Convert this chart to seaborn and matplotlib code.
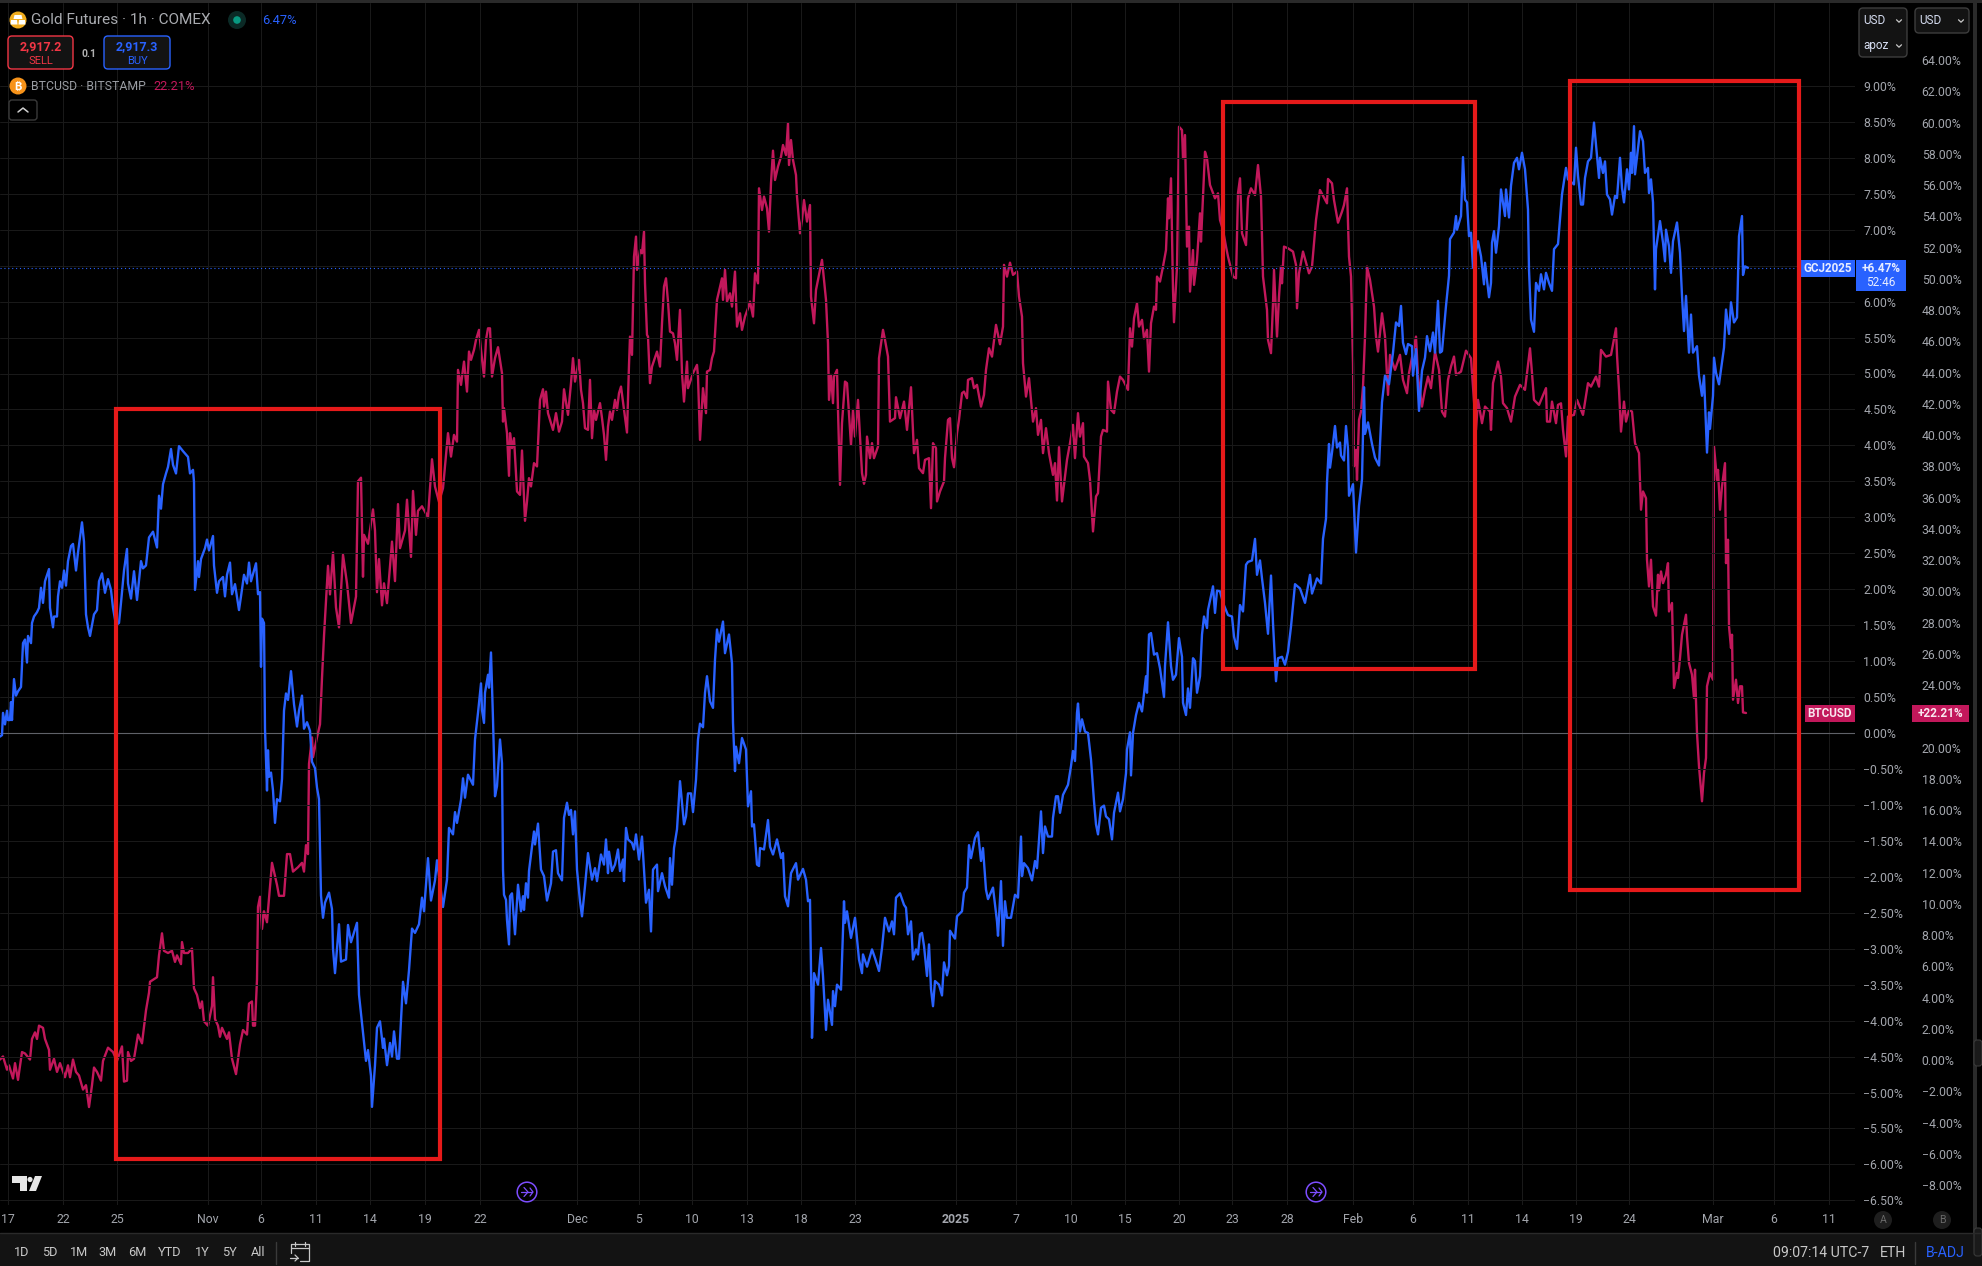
import matplotlib
matplotlib.use("Agg")
import matplotlib.pyplot as plt
from matplotlib.patches import Rectangle, FancyBboxPatch, Circle, Polygon
import pandas as pd
import seaborn as sns

# tick labels sit at these bar positions on the compressed trading axis
tick_bar = [8, 63, 117, 208, 261, 316, 370, 425, 480, 577, 639, 692, 747, 801, 855,
            956, 1016, 1071, 1125, 1179, 1232, 1287, 1353, 1413, 1468, 1522, 1576, 1629, 1713, 1774, 1829]
tick_label = ["17", "22", "25", "Nov", "6", "11", "14", "19", "22", "Dec", "5", "10", "13", "18", "23",
              "2025", "7", "10", "15", "20", "23", "28", "Feb", "6", "11", "14", "19", "24", "Mar", "6", "11"]

gold_bar = [
    0, 2, 3, 5, 7, 8, 10, 11, 12, 14,
    16, 18, 21, 23, 25, 27, 28, 31, 32, 34,
    37, 39, 41, 43, 45, 49, 50, 53, 54, 57,
    58, 60, 62, 64, 66, 68, 71, 73, 76, 78,
    82, 84, 86, 88, 90, 94, 97, 99, 102, 105,
    108, 111, 113, 116, 119, 121, 124, 127, 128, 131,
    134, 137, 141, 143, 146, 149, 153, 157, 159, 161,
    163, 166, 168, 171, 173, 176, 179, 183, 188, 190,
    193, 194, 195, 198, 199, 201, 205, 207, 209, 213,
    214, 217, 219, 223, 225, 227, 230, 232, 235, 239,
    241, 244, 247, 249, 251, 256, 258, 260, 261, 262,
    264, 265, 267, 268, 269, 271, 273, 275, 277, 280,
    282, 284, 286, 288, 291, 294, 297, 299, 302, 304,
    307, 310, 312, 315, 317, 319, 321, 323, 325, 329,
    332, 333, 335, 339, 341, 346, 348, 351, 357, 359,
    362, 366, 368, 371, 372, 375, 377, 380, 383, 384,
    387, 390, 392, 394, 397, 399, 402, 403, 406, 409,
    412, 415, 419, 422, 424, 428, 431, 435, 437, 443,
    447, 449, 453, 455, 457, 461, 463, 465, 468, 473,
    475, 478, 481, 482, 484, 485, 488, 489, 491, 493,
    495, 497, 500, 502, 503, 504, 506, 507, 509, 510,
    512, 515, 518, 521, 523, 524, 526, 528, 529, 532,
    534, 535, 538, 541, 544, 547, 551, 553, 556, 558,
    562, 564, 567, 569, 571, 573, 575, 577, 580, 582,
    585, 588, 592, 595, 597, 601, 604, 606, 608, 609,
    612, 615, 618, 620, 623, 624, 626, 628, 632, 634,
    636, 639, 642, 646, 649, 651, 653, 657, 658, 662,
    665, 669, 670, 672, 674, 677, 680, 684, 686, 688,
    691, 693, 696, 698, 700, 703, 705, 707, 710, 713,
    715, 717, 719, 723, 725, 729, 732, 733, 735, 736,
    739, 742, 746, 748, 751, 752, 754, 757, 759, 760,
    764, 768, 770, 773, 777, 781, 783, 785, 788, 791,
    796, 798, 803, 806, 808, 810, 812, 813, 814, 818,
    821, 823, 826, 828, 832, 833, 835, 837, 841, 844,
    845, 847, 851, 855, 859, 862, 863, 867, 872, 875,
    879, 882, 885, 889, 892, 894, 896, 900, 904, 906,
    908, 911, 913, 916, 918, 920, 922, 924, 927, 929,
    931, 933, 935, 939, 942, 944, 947, 949, 950, 955,
    957, 962, 964, 967, 969, 971, 975, 978, 981, 983,
    986, 988, 993, 997, 998, 1001, 1003, 1005, 1007, 1011,
    1015, 1018, 1021, 1022, 1024, 1028, 1032, 1035, 1037, 1041,
    1043, 1045, 1048, 1052, 1053, 1056, 1058, 1060, 1063, 1068,
    1071, 1073, 1075, 1077, 1078, 1080, 1082, 1085, 1088, 1091,
    1094, 1096, 1098, 1101, 1104, 1106, 1109, 1112, 1114, 1118,
    1120, 1123, 1126, 1127, 1130, 1131, 1133, 1136, 1139, 1142,
    1146, 1147, 1149, 1151, 1154, 1157, 1160, 1164, 1165, 1168,
    1171, 1173, 1176, 1179, 1182, 1183, 1186, 1188, 1190, 1193,
    1195, 1197, 1200, 1202, 1204, 1207, 1208, 1213, 1215, 1217,
    1220, 1223, 1228, 1232, 1234, 1237, 1240, 1243, 1246, 1248,
    1252, 1255, 1257, 1260, 1262, 1265, 1268, 1271, 1273, 1276,
    1278, 1282, 1285, 1288, 1291, 1295, 1300, 1305, 1310, 1312,
    1317, 1321, 1323, 1326, 1327, 1329, 1330, 1332, 1335, 1337,
    1340, 1341, 1344, 1346, 1348, 1349, 1353, 1356, 1359, 1362,
    1364, 1365, 1368, 1372, 1375, 1379, 1382, 1385, 1389, 1393,
    1396, 1399, 1401, 1403, 1406, 1408, 1412, 1413, 1416, 1419,
    1422, 1425, 1427, 1430, 1433, 1435, 1438, 1440, 1442, 1446,
    1449, 1450, 1454, 1456, 1457, 1461, 1463, 1465, 1467, 1469,
    1471, 1473, 1478, 1481, 1484, 1485, 1489, 1491, 1492, 1494,
    1496, 1499, 1501, 1505, 1506, 1509, 1511, 1514, 1517, 1519,
    1522, 1525, 1528, 1529, 1531, 1534, 1536, 1539, 1541, 1544,
    1546, 1549, 1552, 1554, 1558, 1562, 1566, 1568, 1574, 1576,
    1578, 1581, 1583, 1585, 1588, 1591, 1594, 1599, 1600, 1603,
    1605, 1607, 1610, 1612, 1615, 1617, 1620, 1622, 1624, 1627,
    1629, 1631, 1632, 1634, 1635, 1640, 1643, 1645, 1648, 1649,
    1651, 1653, 1655, 1656, 1660, 1663, 1665, 1666, 1669, 1671,
    1673, 1677, 1680, 1682, 1684, 1686, 1689, 1691, 1693, 1697,
    1699, 1702, 1704, 1707, 1709, 1710, 1713, 1714, 1716, 1719,
    1724, 1726, 1729, 1731, 1734, 1737, 1739, 1742, 1743, 1745, 1748,
]
gold_pct = [
    -0.05, -0.03, 0.28, 0.12, 0.31, 0.18, 0.18, 0.43, 0.18, 0.75,
    0.52, 0.58, 0.64, 1.25, 1.30, 0.98, 1.35, 1.25, 1.53, 1.62,
    1.68, 1.74, 2.02, 1.81, 2.11, 2.28, 1.74, 1.47, 1.62, 1.62,
    1.90, 2.11, 2.02, 2.26, 2.05, 2.39, 2.60, 2.63, 2.26, 2.51,
    2.93, 2.66, 1.65, 1.47, 1.35, 1.65, 1.71, 2.11, 2.22, 1.95,
    2.14, 1.99, 1.74, 1.50, 1.53, 1.81, 2.26, 2.56, 2.08, 1.87,
    2.25, 1.85, 2.39, 2.29, 2.33, 2.72, 2.80, 2.58, 3.30, 3.12,
    3.46, 3.61, 3.70, 3.95, 3.73, 3.61, 3.99, 3.92, 3.84, 3.61,
    3.66, 3.49, 1.99, 2.39, 2.17, 2.42, 2.57, 2.69, 2.54, 2.74,
    2.33, 1.95, 2.11, 2.17, 1.90, 2.20, 2.37, 1.93, 2.07, 1.71,
    1.90, 2.20, 2.08, 2.37, 2.11, 2.36, 1.93, 1.96, 0.92, 1.59,
    1.53, 0.06, -0.80, -0.24, -0.61, -0.55, -0.80, -1.25, -0.92, -0.95,
    -0.64, 0.31, 0.55, 0.46, 0.86, 0.40, 0.09, 0.31, 0.52, 0.06,
    0.15, 0.03, -0.40, -0.49, -0.76, -0.92, -2.26, -2.57, -2.36, -2.22,
    -2.45, -3.00, -3.34, -2.66, -3.18, -3.15, -2.67, -2.91, -2.64, -3.64,
    -4.04, -4.56, -4.41, -4.77, -5.20, -4.62, -4.10, -4.01, -4.38, -4.25,
    -4.62, -4.31, -4.50, -4.15, -4.53, -4.53, -3.73, -3.46, -3.76, -3.30,
    -2.72, -2.78, -2.66, -2.29, -2.48, -1.74, -2.33, -2.05, -1.77, -2.42,
    -2.04, -1.32, -1.41, -1.10, -1.25, -0.93, -0.63, -0.90, -0.58, -0.72,
    -0.09, 0.28, 0.69, 0.32, 0.14, 0.56, 0.81, 0.63, 1.12, 0.19,
    -0.88, -0.74, -0.09, -0.42, -1.90, -2.25, -2.32, -2.60, -2.94, -2.27,
    -2.23, -2.80, -2.11, -2.48, -2.27, -2.46, -2.09, -2.29, -1.92, -1.58,
    -1.37, -1.55, -1.26, -1.90, -1.99, -2.33, -2.09, -1.65, -1.63, -1.95,
    -2.05, -1.18, -0.97, -1.14, -1.07, -1.41, -1.09, -1.90, -2.34, -2.55,
    -2.13, -1.67, -2.04, -1.88, -2.06, -1.69, -1.83, -1.48, -1.95, -1.65,
    -1.92, -1.83, -1.62, -1.92, -1.76, -2.06, -1.32, -1.48, -1.53, -1.62,
    -1.41, -1.76, -1.44, -2.36, -2.18, -2.76, -1.90, -1.83, -2.20, -1.95,
    -2.13, -2.29, -1.74, -2.11, -1.60, -1.34, -0.67, -1.27, -1.16, -0.84,
    -0.84, -1.10, -0.65, -0.09, 0.13, 0.08, 0.56, 0.79, 0.44, 0.35,
    1.02, 1.44, 1.27, 1.55, 1.11, 1.37, 0.97, 0.14, -0.53, -0.19,
    -0.42, -0.07, -0.23, -1.02, -0.81, -1.30, -1.27, -1.83, -1.85, -1.60,
    -1.62, -1.21, -1.58, -1.69, -1.48, -1.74, -1.67, -2.27, -2.41, -1.95,
    -1.81, -2.04, -1.89, -2.04, -2.34, -2.32, -4.24, -3.89, -3.34, -3.50,
    -2.99, -3.38, -4.13, -3.71, -4.06, -3.59, -3.80, -3.50, -3.57, -2.34,
    -2.64, -2.48, -2.85, -2.57, -3.15, -3.34, -3.08, -3.25, -3.01, -3.13,
    -3.31, -2.99, -2.57, -2.76, -2.62, -2.80, -2.29, -2.23, -2.39, -2.43,
    -2.80, -2.62, -3.15, -3.01, -3.08, -2.80, -2.78, -2.96, -3.38, -2.94,
    -3.56, -3.80, -3.45, -3.50, -3.65, -3.19, -3.37, -3.24, -2.75, -2.86,
    -2.55, -2.48, -2.22, -2.15, -1.56, -1.74, -1.46, -1.38, -1.78, -1.60,
    -2.18, -2.31, -2.15, -2.62, -2.82, -2.06, -2.96, -2.34, -2.57, -2.57,
    -2.25, -2.29, -1.44, -1.99, -1.81, -1.88, -2.05, -1.78, -1.88, -1.09,
    -1.67, -1.30, -1.44, -1.44, -1.18, -0.88, -0.88, -1.11, -0.86, -0.72,
    -0.46, -0.25, -0.39, 0.28, 0.41, 0.02, 0.19, 0.02, 0.00, -0.37,
    -0.95, -1.27, -1.41, -1.04, -1.01, -1.16, -1.20, -1.48, -1.11, -0.83,
    -1.09, -0.92, -0.56, -0.23, 0.01, -0.59, 0.00, 0.25, 0.42, 0.30,
    0.79, 0.56, 1.37, 1.39, 1.09, 1.11, 0.90, 0.50, 0.93, 1.54,
    0.93, 0.74, 0.81, 1.32, 1.06, 0.42, 0.25, 0.62, 0.35, 1.04,
    1.00, 0.56, 0.79, 1.37, 1.62, 1.46, 1.71, 2.04, 1.67, 1.98,
    1.97, 1.81, 1.64, 1.62, 1.34, 1.17, 1.78, 1.69, 2.34, 2.38,
    2.40, 2.70, 2.20, 2.40, 2.15, 1.81, 1.38, 2.19, 1.53, 0.72,
    1.04, 1.06, 0.95, 1.13, 1.48, 2.07, 2.01, 1.81, 2.20, 1.94,
    2.15, 2.08, 2.70, 2.98, 3.49, 4.02, 3.69, 3.90, 4.27, 3.97,
    4.04, 3.86, 3.79, 4.27, 3.95, 3.30, 3.46, 2.51, 3.16, 3.53,
    4.81, 4.16, 4.32, 4.02, 3.83, 3.72, 4.60, 4.97, 4.85, 5.29,
    5.71, 5.66, 5.94, 5.43, 5.27, 5.41, 5.38, 4.97, 5.34, 4.48,
    5.04, 5.22, 5.52, 5.31, 5.57, 5.29, 6.01, 5.29, 5.31, 5.94,
    6.36, 6.87, 6.96, 7.19, 7.00, 7.19, 8.01, 7.42, 7.38, 6.91,
    6.96, 6.47, 6.84, 6.63, 6.24, 6.54, 6.06, 6.26, 6.82, 6.98,
    6.68, 7.05, 7.56, 7.19, 7.56, 7.17, 7.61, 7.93, 8.00, 7.84,
    8.07, 7.84, 7.28, 6.45, 5.75, 5.58, 6.26, 6.15, 6.38, 6.17,
    6.40, 6.26, 6.15, 6.73, 6.80, 7.49, 7.86, 7.70, 7.63, 8.14,
    7.75, 7.35, 7.35, 7.72, 7.95, 8.00, 8.49, 7.72, 8.00, 7.79,
    7.95, 7.49, 7.42, 7.21, 7.47, 7.44, 8.00, 7.58, 7.38, 7.84,
    7.56, 8.07, 7.79, 8.44, 7.77, 8.37, 8.23, 7.79, 7.86, 7.51,
    7.70, 7.38, 6.17, 6.73, 7.12, 6.82, 6.56, 7.00, 6.77, 6.40,
    6.84, 7.10, 6.68, 6.08, 5.59, 6.08, 5.29, 5.82, 5.29, 5.38,
    4.97, 4.69, 4.97, 3.90, 4.46, 4.23, 4.69, 5.22, 5.01, 4.85,
    5.36, 5.89, 5.55, 5.99, 5.71, 5.78, 6.91, 7.19, 6.37, 6.49, 6.47,
]

btc_bar = [
    0, 3, 7, 9, 13, 15, 18, 22, 25, 30,
    32, 35, 37, 39, 43, 45, 49, 50, 54, 57,
    60, 65, 68, 70, 73, 76, 79, 83, 86, 89,
    92, 94, 97, 101, 103, 108, 113, 117, 122, 124,
    127, 128, 131, 134, 138, 142, 146, 149, 150, 157,
    159, 162, 164, 168, 172, 175, 177, 181, 182, 184,
    188, 192, 194, 197, 200, 202, 204, 208, 212, 213,
    215, 218, 220, 222, 227, 229, 232, 236, 240, 243,
    247, 249, 252, 253, 255, 257, 258, 260, 262, 264,
    267, 272, 277, 279, 284, 287, 290, 293, 298, 302,
    304, 306, 308, 309, 312, 313, 317, 320, 322, 324,
    328, 330, 333, 336, 339, 343, 347, 351, 356, 358,
    361, 363, 364, 368, 373, 375, 377, 379, 382, 384,
    387, 392, 395, 398, 400, 405, 407, 411, 413, 416,
    418, 422, 428, 432, 435, 439, 443, 447, 448, 451,
    454, 457, 458, 461, 464, 467, 469, 471, 474, 476,
    479, 481, 484, 486, 488, 490, 492, 495, 498, 502,
    503, 504, 507, 509, 510, 512, 514, 517, 520, 522,
    525, 527, 529, 531, 534, 537, 540, 543, 544, 546,
    548, 553, 556, 559, 562, 564, 568, 571, 573, 575,
    579, 581, 583, 585, 588, 590, 592, 594, 596, 600,
    602, 604, 606, 608, 610, 612, 615, 617, 619, 621,
    624, 627, 629, 630, 632, 634, 636, 637, 640, 642,
    644, 645, 647, 648, 650, 652, 657, 660, 662, 664,
    666, 668, 670, 673, 675, 677, 680, 682, 684, 687,
    688, 693, 697, 698, 700, 703, 706, 707, 710, 712,
    714, 717, 722, 723, 725, 727, 730, 732, 735, 737,
    740, 742, 745, 748, 750, 753, 755, 758, 759, 762,
    764, 767, 769, 771, 773, 775, 778, 781, 783, 786,
    788, 789, 791, 793, 796, 797, 800, 802, 804, 807,
    810, 811, 814, 816, 818, 822, 826, 828, 829, 831,
    833, 834, 837, 838, 840, 842, 845, 847, 851, 853,
    855, 858, 862, 864, 866, 867, 870, 872, 874, 878,
    879, 883, 885, 888, 890, 895, 896, 900, 904, 907,
    911, 914, 917, 919, 923, 925, 929, 931, 933, 936,
    937, 940, 944, 945, 948, 950, 952, 954, 957, 959,
    962, 964, 967, 968, 972, 974, 977, 981, 984, 986,
    989, 992, 996, 1000, 1003, 1004, 1007, 1010, 1013, 1017,
    1019, 1022, 1023, 1026, 1029, 1033, 1036, 1038, 1041, 1043,
    1046, 1049, 1053, 1055, 1057, 1059, 1062, 1067, 1070, 1073,
    1075, 1078, 1080, 1083, 1084, 1088, 1090, 1093, 1096, 1098,
    1101, 1103, 1107, 1108, 1111, 1114, 1117, 1120, 1123, 1128,
    1130, 1132, 1134, 1137, 1139, 1142, 1144, 1147, 1149, 1151,
    1154, 1156, 1157, 1160, 1163, 1166, 1168, 1169, 1171, 1173,
    1174, 1177, 1179, 1182, 1183, 1185, 1187, 1189, 1190, 1193,
    1194, 1197, 1200, 1201, 1205, 1207, 1210, 1215, 1218, 1220,
    1223, 1226, 1228, 1233, 1236, 1238, 1240, 1242, 1246, 1248,
    1251, 1255, 1258, 1261, 1263, 1267, 1268, 1271, 1273, 1274,
    1277, 1279, 1281, 1282, 1284, 1288, 1293, 1296, 1297, 1299,
    1303, 1309, 1312, 1316, 1320, 1327, 1328, 1332, 1334, 1338,
    1342, 1344, 1347, 1349, 1351, 1353, 1354, 1356, 1357, 1359,
    1361, 1363, 1365, 1367, 1370, 1374, 1376, 1378, 1380, 1382,
    1385, 1388, 1390, 1395, 1400, 1403, 1407, 1409, 1416, 1418,
    1422, 1425, 1428, 1431, 1435, 1439, 1442, 1445, 1448, 1451,
    1454, 1456, 1461, 1466, 1471, 1473, 1476, 1478, 1482, 1485,
    1490, 1491, 1493, 1498, 1501, 1503, 1507, 1511, 1515, 1520,
    1525, 1530, 1532, 1534, 1539, 1546, 1547, 1550, 1552, 1556,
    1558, 1561, 1563, 1566, 1568, 1574, 1577, 1583, 1588, 1591,
    1596, 1599, 1601, 1606, 1611, 1616, 1617, 1619, 1621, 1624,
    1626, 1629, 1632, 1635, 1639, 1641, 1643, 1646, 1647, 1649,
    1651, 1653, 1656, 1658, 1659, 1661, 1663, 1666, 1668, 1669,
    1672, 1674, 1677, 1678, 1680, 1682, 1686, 1687, 1689, 1692,
    1694, 1695, 1697, 1699, 1702, 1704, 1706, 1707, 1710, 1713,
    1714, 1717, 1718, 1720, 1722, 1725, 1726, 1728, 1729, 1731,
    1732, 1733, 1736, 1738, 1740, 1742, 1743, 1746,
]
btc_pct = [
    0.03, 0.23, -0.62, -0.34, -1.18, -0.20, -1.27, 0.51, 0.42, 0.03,
    1.35, 1.77, 1.35, 2.20, 2.06, 1.35, 0.65, -0.62, 0.08, -0.76,
    -0.20, -1.10, -0.34, -1.10, 0.03, -0.76, -0.99, -1.89, -1.61, -3.01,
    -1.61, -0.48, -0.76, -1.32, -0.06, 0.79, 0.51, -0.06, 0.87, -1.38,
    -1.32, 0.51, -0.06, 0.08, 1.63, 1.07, 3.18, 4.31, 5.01, 5.30,
    6.70, 8.11, 6.99, 6.85, 6.99, 6.28, 6.70, 6.14, 7.55, 6.85,
    6.85, 7.13, 4.59, 4.17, 3.32, 3.75, 2.48, 2.20, 3.46, 5.30,
    2.62, 2.20, 1.49, 2.06, 1.35, 1.77, 0.08, -0.90, 1.00, 1.92,
    1.63, 3.61, 3.75, 2.20, 2.20, 5.16, 9.80, 10.45, 8.39, 9.52,
    8.82, 12.62, 11.21, 10.51, 10.51, 13.18, 13.18, 12.06, 12.34, 12.62,
    12.06, 13.75, 13.18, 18.96, 20.65, 19.38, 20.65, 21.49, 24.45, 27.13,
    31.63, 29.80, 32.48, 28.96, 27.69, 32.34, 30.51, 27.97, 29.66, 37.04,
    37.27, 30.93, 33.61, 33.04, 35.24, 33.89, 29.94, 32.06, 29.10, 30.51,
    29.24, 33.18, 30.65, 35.58, 32.76, 33.89, 35.86, 32.20, 36.42, 33.61,
    35.15, 35.44, 34.73, 38.45, 36.70, 35.72, 36.60, 39.48, 40.12, 38.62,
    40.01, 39.58, 44.17, 43.21, 44.70, 42.78, 45.34, 44.81, 45.45, 46.09,
    46.73, 45.45, 43.74, 46.09, 46.83, 46.83, 43.74, 44.92, 45.62, 43.96,
    40.86, 41.72, 40.12, 37.39, 40.12, 39.16, 39.80, 36.39, 36.17, 39.01,
    34.51, 35.75, 37.24, 36.71, 38.20, 37.99, 42.25, 42.93, 41.82, 42.78,
    41.40, 40.33, 41.40, 40.22, 40.86, 42.93, 41.29, 43.32, 44.92, 43.42,
    44.81, 42.89, 42.04, 40.44, 40.33, 43.53, 39.80, 41.61, 40.97, 42.04,
    41.08, 40.01, 38.41, 40.54, 41.50, 40.97, 42.25, 41.61, 42.68, 43.10,
    41.61, 40.16, 44.49, 46.30, 45.13, 51.42, 52.70, 50.57, 51.84, 51.63,
    53.02, 49.71, 46.41, 46.30, 43.32, 44.38, 45.34, 44.38, 47.15, 49.50,
    50.03, 48.54, 46.62, 46.51, 45.87, 44.81, 48.01, 43.96, 42.14, 44.70,
    43.00, 43.96, 44.49, 43.74, 39.69, 43.00, 41.40, 44.06, 44.17, 44.92,
    45.34, 48.65, 50.03, 48.65, 50.57, 48.54, 49.07, 48.22, 50.46, 46.94,
    47.79, 46.73, 47.58, 48.11, 48.54, 47.58, 50.35, 49.71, 55.79, 54.40,
    55.26, 54.51, 53.02, 56.11, 58.20, 56.32, 57.18, 57.81, 58.56, 57.92,
    59.95, 57.28, 58.88, 57.60, 56.64, 55.26, 52.91, 53.76, 55.04, 53.66,
    54.72, 48.86, 47.15, 49.29, 49.93, 51.21, 48.65, 45.87, 42.25, 43.85,
    42.04, 43.74, 44.17, 41.61, 36.81, 40.76, 43.42, 43.32, 39.37, 41.61,
    39.90, 42.25, 37.56, 36.88, 37.45, 39.90, 38.52, 39.48, 38.52, 39.26,
    44.92, 46.73, 46.09, 45.02, 40.86, 41.08, 42.42, 41.08, 42.14, 40.33,
    43.06, 38.84, 39.69, 37.88, 37.56, 38.41, 38.52, 35.32, 39.48, 39.16,
    35.75, 36.39, 37.03, 38.52, 40.97, 41.08, 38.52, 37.94, 40.12, 40.97,
    42.68, 42.78, 42.36, 43.53, 43.64, 43.00, 43.21, 41.82, 42.57, 44.17,
    45.55, 45.02, 47.05, 45.81, 46.94, 50.89, 50.14, 51.03, 50.25, 50.46,
    48.86, 47.58, 44.60, 42.46, 43.64, 40.86, 41.72, 40.01, 40.97, 38.84,
    40.44, 38.84, 37.45, 38.20, 35.81, 39.22, 35.75, 38.41, 39.48, 40.65,
    38.52, 41.40, 39.90, 40.76, 38.62, 38.20, 37.13, 33.83, 36.07, 36.28,
    39.90, 40.33, 40.22, 43.42, 41.61, 41.40, 42.78, 43.74, 43.53, 42.89,
    46.83, 45.66, 47.47, 48.43, 46.94, 47.37, 46.19, 46.73, 44.06, 47.15,
    48.22, 48.01, 50.14, 49.82, 50.78, 51.84, 55.15, 53.87, 56.43, 49.29,
    47.22, 50.78, 59.73, 59.52, 57.71, 59.20, 52.06, 53.34, 49.18, 51.84,
    49.61, 51.21, 54.19, 52.38, 58.13, 57.71, 56.00, 55.15, 55.47, 53.76,
    53.12, 52.06, 51.42, 50.14, 50.03, 55.47, 56.43, 52.91, 52.16, 55.15,
    55.79, 55.36, 57.28, 55.26, 50.14, 48.01, 46.09, 45.24, 48.43, 50.57,
    46.30, 48.86, 50.78, 49.71, 52.06, 51.95, 51.74, 50.89, 48.11, 50.35,
    51.74, 50.35, 50.78, 53.76, 55.68, 54.83, 56.39, 56.11, 55.04, 53.59,
    54.30, 54.72, 55.79, 51.42, 50.14, 44.60, 38.00, 39.05, 37.13, 40.97,
    41.50, 43.10, 46.30, 50.78, 49.93, 48.22, 46.30, 45.34, 46.51, 47.79,
    46.30, 42.57, 45.13, 44.17, 45.13, 43.53, 42.68, 43.96, 46.30, 43.74,
    41.82, 42.89, 43.74, 43.00, 45.34, 44.17, 41.50, 41.18, 43.53, 44.38,
    45.02, 43.85, 44.06, 45.40, 44.92, 43.10, 40.33, 42.25, 40.76, 41.82,
    41.50, 40.33, 43.32, 44.70, 43.74, 42.04, 41.72, 40.86, 42.46, 43.21,
    42.89, 45.55, 43.96, 42.25, 41.93, 43.00, 40.86, 40.86, 42.14, 40.76,
    41.93, 42.03, 40.33, 38.63, 41.18, 41.29, 42.25, 41.29, 43.32, 43.10,
    43.74, 43.10, 45.45, 45.02, 45.13, 46.83, 45.13, 42.89, 40.22, 42.14,
    40.86, 41.61, 41.50, 39.48, 38.84, 35.22, 36.39, 35.96, 32.02, 30.31,
    32.02, 29.03, 28.44, 31.06, 30.06, 31.27, 30.52, 31.06, 31.80, 28.71,
    29.25, 23.81, 24.77, 24.45, 25.73, 27.22, 28.50, 27.11, 25.41, 24.66,
    23.17, 24.98, 20.93, 18.80, 16.56, 18.37, 19.33, 23.92, 24.77, 24.34,
    39.27, 37.13, 37.77, 35.22, 36.71, 38.20, 31.80, 33.30, 27.76, 26.37,
    27.22, 23.06, 24.34, 22.85, 23.92, 23.92, 22.25, 22.21,
]

gold_ticks = [-6.5, -6, -5.5, -5, -4.5, -4, -3.5, -3, -2.5, -2, -1.5, -1, -0.5, 0, 0.5, 1, 1.5, 2, 2.5,
              3, 3.5, 4, 4.5, 5, 5.5, 6, 6.5, 7, 7.5, 8, 8.5, 9]
btc_ticks = [-8, -6, -4, -2, 0, 2, 4, 6, 8, 10, 12, 14, 16, 18, 20, 22, 24, 26, 28, 30, 32, 34, 36, 38, 40,
             42, 44, 46, 48, 50, 52, 54, 56, 58, 60, 62, 64]

BLUE = "#2962ff"
PINK = "#c2185b"
RED = "#e61a1a"
TXT = "#a3a6ad"
GRID = "#191919"
PANEL = "#131313"

sns.set_theme(style="dark", rc={"figure.facecolor": "black", "axes.facecolor": "black",
                                "axes.edgecolor": "black", "grid.color": GRID})
plt.rcParams['font.family'] = ['Roboto', 'DejaVu Sans']
plt.rcParams['axes.unicode_minus'] = True
# seaborn forces white edges on patches, the badges and coins have none
plt.rcParams['patch.force_edgecolor'] = False


def pct_fmt(v):
    return f"{v:.2f}%".replace("-", "\u2212")


W, H = 1982, 1266
fig = plt.figure(figsize=(W / 100, H / 100), dpi=100, facecolor="black")
# chart pane runs from y=3 to y=1205, x=0 to x=1855
ax = fig.add_axes([0, (H - 1205) / H, 1855 / W, (1205 - 3) / H])
ax2 = ax.twinx()

gold_df = pd.DataFrame({"bar": gold_bar, "pct": gold_pct})
btc_df = pd.DataFrame({"bar": btc_bar, "pct": btc_pct})

ax.axhline(0, color="#5f6168", lw=0.8, zorder=1)
ax.axhline(6.47, color=BLUE, lw=0.8, ls=(0, (1, 2.5)), zorder=1)
sns.lineplot(data=btc_df, x="bar", y="pct", ax=ax2, color=PINK, lw=1.7, estimator=None, sort=False,
             errorbar=None, zorder=3)
sns.lineplot(data=gold_df, x="bar", y="pct", ax=ax, color=BLUE, lw=1.7, estimator=None, sort=False,
             errorbar=None, zorder=4)
# gold line has to sit over the pink one, so the left axes goes in front
ax.set_zorder(ax2.get_zorder() + 1)
ax.patch.set_visible(False)
ax2.patch.set_facecolor("black")

ax.set_xlim(0, 1855)
ax.set_ylim((733 - 1205) / 71.9, (733 - 3) / 71.9)
ax2.set_ylim(20.93 + (733 - 1205) / 15.625, 20.93 + (733 - 3) / 15.625)

ax.set_xticks(tick_bar)
ax.set_xticklabels(tick_label, fontsize=8.8, color=TXT)
for lab in ax.get_xticklabels():
    if lab.get_text() == "2025":
        lab.set_fontweight("bold")
ax.tick_params(axis="x", length=0, pad=5.5)
ax.grid(True, color=GRID, lw=0.72)
ax.set_axisbelow(True)
ax2.grid(False)
ax.set_xlabel("")
ax.set_ylabel("")
ax2.set_xlabel("")
ax2.set_ylabel("")

ax.yaxis.tick_right()
ax.set_yticks(gold_ticks)
# 6.50% is covered by the last price badge
ax.set_yticklabels(["" if v == 6.5 else pct_fmt(v) for v in gold_ticks], fontsize=8.8, color=TXT)
ax.tick_params(axis="y", length=0, pad=6)
ax2.set_yticks(btc_ticks)
ax2.set_yticklabels(["" if v == 22 else pct_fmt(v) for v in btc_ticks], fontsize=8.8, color=TXT)
ax2.tick_params(axis="y", length=0, pad=48)
for a in (ax, ax2):
    for s in a.spines.values():
        s.set_visible(False)

# overlay in picture pixels for the platform chrome and the hand drawn boxes
ov = fig.add_axes([0, 0, 1, 1], zorder=10)
ov.set_xlim(0, W)
ov.set_ylim(H, 0)
ov.axis("off")
ov.patch.set_visible(False)


def box(x0, y0, x1, y1, face="none", edge="none", lw=1.0, rad=0, z=2):
    if rad:
        p = FancyBboxPatch((x0 + rad, y0 + rad), x1 - x0 - 2 * rad, y1 - y0 - 2 * rad,
                           boxstyle=f"round,pad={rad},rounding_size={rad}",
                           fc=face, ec=edge, lw=lw, zorder=z)
    else:
        p = Rectangle((x0, y0), x1 - x0, y1 - y0, fc=face, ec=edge, lw=lw, zorder=z)
    ov.add_patch(p)


def txt(x, y, s, size=8.8, color=TXT, ha="left", weight="normal", z=5):
    ov.text(x, y, s, fontsize=size, color=color, ha=ha, va="center", fontweight=weight, zorder=z)


# red rectangles
for x0, y0, x1, y1 in [(116, 409, 440, 1159), (1223, 102, 1475, 669), (1570, 81, 1799, 890)]:
    box(x0, y0, x1, y1, edge=RED, lw=3.0, z=3)

# top strip, bottom toolbar, right edge
box(0, 0, W, 3, face="#2a2a2a")
box(0, 1233, W, H, face=PANEL)
ov.plot([0, W], [1233, 1233], color="#2a2a2a", lw=1, zorder=3)
box(1973, 3, 1977, 1233, face="#2a2a2a")

# header
ov.add_patch(Circle((18, 20), 8.5, fc="#f0ad1e", zorder=4))
ov.add_patch(Polygon([[14.5, 15], [21.5, 15], [22.5, 19], [13.5, 19]], fc="white", zorder=5))
ov.add_patch(Polygon([[11, 20], [17, 20], [17.5, 24.5], [10.5, 24.5]], fc="white", zorder=5))
ov.add_patch(Polygon([[19, 20], [25, 20], [25.5, 24.5], [18.5, 24.5]], fc="white", zorder=5))
txt(31, 20, "Gold Futures \u00b7 1h \u00b7 COMEX", size=11.1, color="#a9abb0")
ov.add_patch(Circle((237, 20), 9, fc="#0b2a26", zorder=4))
ov.add_patch(Circle((237, 20), 3.8, fc="#089981", zorder=5))
txt(262, 20, "6.47%", size=9.3, color=BLUE)

box(8, 36, 73, 69, face=PANEL, edge="#f23645", lw=1, rad=4)
txt(40.5, 47, "2,917.2", size=9, color="#f23645", ha="center", weight="bold")
txt(40.5, 61, "SELL", size=8, color="#f23645", ha="center")
txt(89, 54, "0.1", size=7.6, color="#b0b0b0", ha="center", weight="bold")
box(104, 36, 170, 69, face=PANEL, edge=BLUE, lw=1, rad=4)
txt(137, 47, "2,917.3", size=9, color=BLUE, ha="center", weight="bold")
txt(137, 61, "BUY", size=8, color=BLUE, ha="center")

ov.add_patch(Circle((18, 86), 8.5, fc="#f7931a", zorder=4))
ov.text(18, 86, "\u20bf", fontsize=8, color="white", ha="center", va="center", fontweight="bold",
        family=["Inter", "Noto Sans", "Open Sans", "Lato", "Roboto", "DejaVu Sans"], zorder=5)
txt(31, 86.5, "BTCUSD \u00b7 BITSTAMP", size=8.8, color="#9a9da3")
txt(153, 86.5, "22.21%", size=9.3, color=PINK)
box(9, 100, 37, 120, edge="#3a3a3a", lw=1, rad=3)
ov.plot([18, 23, 28], [112, 108, 112], color="#d0d0d0", lw=1.1, zorder=5)

# currency and scale selectors
box(1859, 8, 1907, 57, face=PANEL, edge="#3d3d3d", lw=1, rad=4)
box(1915, 8, 1969, 33, face=PANEL, edge="#3d3d3d", lw=1, rad=4)
txt(1863, 21, "USD", size=8.5, color="#d5dcf0")
txt(1863, 45.5, "apoz", size=8.5, color="#d5dcf0")
txt(1919, 21, "USD", size=8.5, color="#d5dcf0")
for cx, cy in [(1899, 21), (1899, 46), (1961, 21)]:
    ov.plot([cx - 2.5, cx, cx + 2.5], [cy - 1.2, cy + 1.2, cy - 1.2], color="#c8c8c8", lw=0.9, zorder=5)

# last price badges
box(1801, 260, 1855, 277, face=BLUE)
txt(1828, 268.5, "GCJ2025", size=8.4, color="#e8edff", ha="center", weight="bold")
box(1856, 260, 1906, 291, face=BLUE)
txt(1881, 269, "+6.47%", size=8.5, color="#e8edff", ha="center", weight="bold")
txt(1881, 283, "52:46", size=8.5, color="#e8edff", ha="center")
box(1805, 705, 1855, 722, face=PINK)
txt(1830, 713.5, "BTCUSD", size=8.4, color="#f8e8ef", ha="center", weight="bold")
box(1912, 705, 1969, 722, face=PINK)
txt(1940.5, 713.5, "+22.21%", size=8.5, color="#f8e8ef", ha="center", weight="bold")

# TradingView mark and the two session markers
ov.add_patch(Polygon([[12, 1176], [27, 1176], [27, 1191], [20, 1191], [20, 1183], [12, 1183]],
                     fc="#e6e6e6", zorder=5))
ov.add_patch(Circle((30, 1179.5), 2.6, fc="#e6e6e6", zorder=5))
ov.add_patch(Polygon([[35, 1176], [42, 1176], [36, 1191], [29, 1191]], fc="#e6e6e6", zorder=5))
for cx in (527, 1316):
    ov.add_patch(Circle((cx, 1192), 9.8, fc="black", ec="#7d4dff", lw=1.1, zorder=5))
    ov.plot([cx - 6, cx + 5], [1192, 1192], color="#7d4dff", lw=0.9, zorder=6)
    ov.plot([cx - 3, cx + 1, cx - 3], [1187.5, 1192, 1196.5], color="#7d4dff", lw=0.9, zorder=6)
    ov.plot([cx + 3, cx + 6, cx + 3], [1188, 1192, 1196], color="#7d4dff", lw=0.9, zorder=6)

# scale buttons under the price columns
for cx, s in [(1883, "A"), (1942, "B")]:
    ov.add_patch(Circle((cx, 1220), 9, fc="#1e1e1e", zorder=4))
    txt(cx, 1220, s, size=7.6, color="#6a6a6a", ha="center")

# toolbar
for cx, s in [(22, "1D"), (50, "5D"), (79, "1M"), (108, "3M"), (137, "6M"), (170, "YTD"),
              (202, "1Y"), (229, "5Y"), (258, "All")]:
    txt(cx, 1253, s, size=9.2, color="#c8c8c8", ha="center")
ov.plot([276, 276], [1242, 1264], color="#3a3a3a", lw=1, zorder=4)
ov.plot([291, 291, 309, 309, 300], [1253, 1244, 1244, 1261, 1261], color="#c8c8c8", lw=0.9, zorder=4)
ov.plot([291, 309], [1248, 1248], color="#c8c8c8", lw=0.9, zorder=4)
ov.plot([295, 295], [1242, 1246], color="#c8c8c8", lw=0.9, zorder=4)
ov.plot([305, 305], [1242, 1246], color="#c8c8c8", lw=0.9, zorder=4)
ov.plot([290, 298], [1258, 1258], color="#c8c8c8", lw=0.9, zorder=4)
ov.plot([295, 298, 295], [1255, 1258, 1261], color="#c8c8c8", lw=0.9, zorder=4)
txt(1869, 1253, "09:07:14 UTC-7", size=10.2, color="#c8c8c8", ha="right")
txt(1893, 1253, "ETH", size=10.2, color="#c8c8c8", ha="center")
ov.plot([1915, 1915], [1242, 1264], color="#3a3a3a", lw=1, zorder=4)
txt(1945, 1253, "B-ADJ", size=10.2, color=BLUE, ha="center")

box(1974, 1040, 1982, 1066, face="#1a1a1a", edge="#3a3a3a", lw=0.8, rad=3)
box(1974, 1228, 1982, 1256, face="#1a1a1a", edge="#3a3a3a", lw=0.8, rad=3)

fig.savefig("out.png", dpi=100, facecolor="black")
